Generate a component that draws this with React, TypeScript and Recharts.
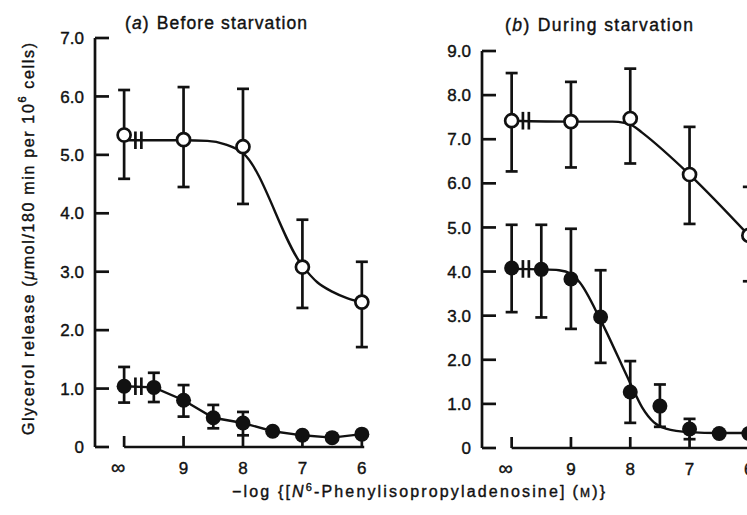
import React from "react";
import {
  ComposedChart,
  Line,
  Scatter,
  XAxis,
  YAxis,
  ErrorBar,
  ReferenceLine,
} from "recharts";

const INK = "#111";
const FONT = "'Liberation Sans', Arial, sans-serif";

// x positions are -log[PIA]; "infinity" (no agonist) is drawn at 10
const INF = 10;
const openX = [INF, 9, 8, 7, 6];
const filledX = [INF, 9.5, 9, 8.5, 8, 7.5, 7, 6.5, 6];
const xTicks = [INF, 9, 8, 7, 6];
const breakX = [9.81, 9.71];

// (a) before starvation
const openA = [5.34, 5.26, 5.14, 3.08, 2.48];
const openALow = [4.59, 4.45, 4.16, 2.38, 1.71];
const openAHigh = [6.11, 6.16, 6.13, 3.89, 3.17];
const filledA = [1.04, 1.02, 0.8, 0.5, 0.41, 0.27, 0.2, 0.16, 0.22];
const filledALow = [0.76, 0.77, 0.52, 0.32, 0.2, 0.27, 0.2, 0.16, 0.22];
const filledAHigh = [1.37, 1.27, 1.06, 0.72, 0.6, 0.27, 0.2, 0.16, 0.22];
const fitOpenAX = [INF, 9, 8.6, 8.3, 8, 7, 6.75, 6.5, 6.25, 6];
const fitOpenAY = [5.25, 5.25, 5.24, 5.18, 5.03, 3.1, 2.82, 2.66, 2.55, 2.48];
const yTicksA = [0, 1, 2, 3, 4, 5, 6, 7];

// (b) during starvation
const openB = [7.42, 7.4, 7.47, 6.2, 4.82];
const openBLow = [6.27, 6.36, 6.45, 5.08, 3.78];
const openBHigh = [8.5, 8.3, 8.6, 7.28, 5.92];
const filledB = [4.08, 4.05, 3.83, 2.97, 1.27, 0.95, 0.43, 0.33, 0.33];
const filledBLow = [3.08, 2.96, 2.7, 1.93, 0.57, 0.48, 0.2, 0.33, 0.33];
const filledBHigh = [5.06, 5.06, 4.97, 4.03, 1.97, 1.44, 0.66, 0.33, 0.33];
const fitOpenBX = [INF, 9, 8.3, 8.1, 7.95, 7.8, 7, 6];
const fitOpenBY = [7.42, 7.4, 7.4, 7.37, 7.3, 7.15, 6.2, 4.82];
const fitFilledBX = [INF, 9.5, 9.2, 9, 8.85, 8.5, 8, 7.8, 7.6, 7.4, 7, 6.5, 6];
const fitFilledBY = [4.06, 4.05, 4.03, 3.95, 3.75, 2.9, 1.47, 0.92, 0.58, 0.44, 0.36, 0.34, 0.34];
const yTicksB = [0, 1, 2, 3, 4, 5, 6, 7, 8, 9];

type Pt = { x: number; y: number; err?: number[] };

const points = (xs: number[], ys: number[], lo?: number[], hi?: number[]): Pt[] =>
  xs.map((x, i) => ({
    x,
    y: ys[i],
    err: lo && hi ? [ys[i] - lo[i], hi[i] - ys[i]] : undefined,
  }));

const textInk = { fill: INK, stroke: INK, strokeWidth: 0.4 };

const YTick = (props: any) => {
  const { x, y, payload } = props;
  const v = payload.value as number;
  return (
    <g>
      <line x1={x} y1={y} x2={x + 14} y2={y} stroke={INK} strokeWidth={2.7} />
      <text x={x - 11} y={y} dy="0.36em" textAnchor="end" fontSize={17} fontFamily={FONT} {...textInk}>
        {v === 0 ? "0" : v.toFixed(1)}
      </text>
    </g>
  );
};

const XTick = (props: any) => {
  const { x, y, payload } = props;
  const v = payload.value as number;
  const inf = v === INF;
  return (
    <g>
      <line x1={x} y1={y} x2={x} y2={y - 11} stroke={INK} strokeWidth={2.7} />
      <text x={inf ? x - 6 : x} y={y + 27} textAnchor="middle" fontSize={inf ? 20 : 17} fontFamily={FONT} {...textInk}>
        {inf ? "∞" : String(v)}
      </text>
    </g>
  );
};

const openDot = (p: any) => (
  <circle cx={p.cx} cy={p.cy} r={6.5} fill="#fff" stroke={INK} strokeWidth={2.7} />
);
const filledDot = (p: any) => <circle cx={p.cx} cy={p.cy} r={7.5} fill={INK} />;

type PanelProps = {
  left: number;
  width: number;
  axisWidth: number;
  top: number;
  xAxisHeight: number;
  xDomain: [number, number];
  yMax: number;
  yTicks: number[];
  open: Pt[];
  filled: Pt[];
  openFit: Pt[];
  filledFit: Pt[];
  breakHalf: number;
  axisBreakHalf: number;
};

function Panel(p: PanelProps) {
  const bars = (level: number, half: number, key: string) =>
    breakX.map((bx) => (
      <ReferenceLine
        key={key + bx}
        segment={[
          { x: bx, y: level - half },
          { x: bx, y: level + half },
        ]}
        stroke={INK}
        strokeWidth={2.7}
      />
    ));
  return (
    <div style={{ position: "absolute", left: p.left, top: 0 }}>
      <ComposedChart
        width={p.width}
        height={515}
        margin={{ top: p.top, right: p.width - p.axisWidth - 271, bottom: 0, left: 0 }}
      >
        <XAxis
          dataKey="x"
          type="number"
          domain={p.xDomain}
          reversed
          ticks={xTicks}
          interval={0}
          axisLine={false}
          tickLine={false}
          tickSize={0}
          tickMargin={0}
          height={p.xAxisHeight}
          tick={<XTick />}
          allowDuplicatedCategory={false}
        />
        <YAxis
          dataKey="y"
          type="number"
          domain={[0, p.yMax]}
          ticks={p.yTicks}
          interval={0}
          width={p.axisWidth}
          axisLine={{ stroke: INK, strokeWidth: 2.7 }}
          tickLine={false}
          tickSize={0}
          tickMargin={0}
          tick={<YTick />}
        />
        <ReferenceLine
          segment={[
            { x: INF, y: 0 },
            { x: p.xDomain[0] + 0.03, y: 0 },
          ]}
          stroke={INK}
          strokeWidth={2.7}
        />
        {bars(0, p.axisBreakHalf, "axis")}
        <Line
          data={p.openFit}
          dataKey="y"
          type="monotone"
          stroke={INK}
          strokeWidth={2.4}
          dot={false}
          activeDot={false}
          isAnimationActive={false}
        />
        <Line
          data={p.filledFit}
          dataKey="y"
          type={p.filledFit === p.filled ? "linear" : "monotone"}
          stroke={INK}
          strokeWidth={2.4}
          dot={false}
          activeDot={false}
          isAnimationActive={false}
        />
        {bars(p.openFit[0].y, p.breakHalf, "open")}
        {bars(p.filledFit[0].y, p.breakHalf, "filled")}
        <Scatter data={p.open} dataKey="y" shape={openDot} isAnimationActive={false}>
          <ErrorBar dataKey="err" direction="y" width={6} stroke={INK} strokeWidth={2.7} />
        </Scatter>
        <Scatter data={p.filled} dataKey="y" shape={filledDot} isAnimationActive={false}>
          <ErrorBar dataKey="err" direction="y" width={6} stroke={INK} strokeWidth={2.7} />
        </Scatter>
      </ComposedChart>
    </div>
  );
}

export default function App() {
  const filledAPts = points(filledX, filledA, filledALow, filledAHigh);
  return (
    <div
      style={{
        position: "absolute",
        left: 0,
        top: 0,
        width: 747,
        height: 515,
        overflow: "hidden",
        background: "#fff",
      }}
    >
      <Panel
        left={0}
        width={380}
        axisWidth={95}
        top={38}
        xAxisHeight={68}
        xDomain={[5.93, 10.49]}
        yMax={7}
        yTicks={yTicksA}
        open={points(openX, openA, openALow, openAHigh)}
        filled={filledAPts}
        openFit={points(fitOpenAX, fitOpenAY)}
        filledFit={filledAPts}
        breakHalf={0.15}
        axisBreakHalf={0.11}
      />
      <Panel
        left={380}
        width={385}
        axisWidth={102}
        top={51}
        xAxisHeight={67}
        xDomain={[5.93, 10.5]}
        yMax={9}
        yTicks={yTicksB}
        open={points(openX, openB, openBLow, openBHigh)}
        filled={points(filledX, filledB, filledBLow, filledBHigh)}
        openFit={points(fitOpenBX, fitOpenBY)}
        filledFit={points(fitFilledBX, fitFilledBY)}
        breakHalf={0.2}
        axisBreakHalf={0.15}
      />
      <svg
        width={747}
        height={515}
        style={{ position: "absolute", left: 0, top: 0, pointerEvents: "none" }}
        fontFamily={FONT}
        {...textInk}
      >
        <text x={125} y={29} fontSize={17.5} textLength={182} lengthAdjust="spacing">
          (<tspan fontStyle="italic">a</tspan>)<tspan dx={7}>Before starvation</tspan>
        </text>
        <text x={505} y={31} fontSize={17.5} textLength={188} lengthAdjust="spacing">
          (<tspan fontStyle="italic">b</tspan>)<tspan dx={7}>During starvation</tspan>
        </text>
        <text
          x={28}
          y={239}
          transform="rotate(-90 28 239)"
          textAnchor="middle"
          dominantBaseline="central"
          fontSize={16}
          textLength={392}
          lengthAdjust="spacing"
        >
          Glycerol release (<tspan fontStyle="italic">μ</tspan>mol/180 min per 10
          <tspan dy={-6} fontSize={11}>6</tspan>
          <tspan dy={6}> cells)</tspan>
        </text>
        <text x={232} y={497} fontSize={16} textLength={373} lengthAdjust="spacing">
          −log {"{"}[<tspan fontStyle="italic">N</tspan>
          <tspan dy={-6} fontSize={11}>6</tspan>
          <tspan dy={6}>-Phenylisopropyladenosine]</tspan>
          <tspan dx={6}>(</tspan>
          <tspan fontSize={12}>M</tspan>){"}"}
        </text>
      </svg>
    </div>
  );
}
